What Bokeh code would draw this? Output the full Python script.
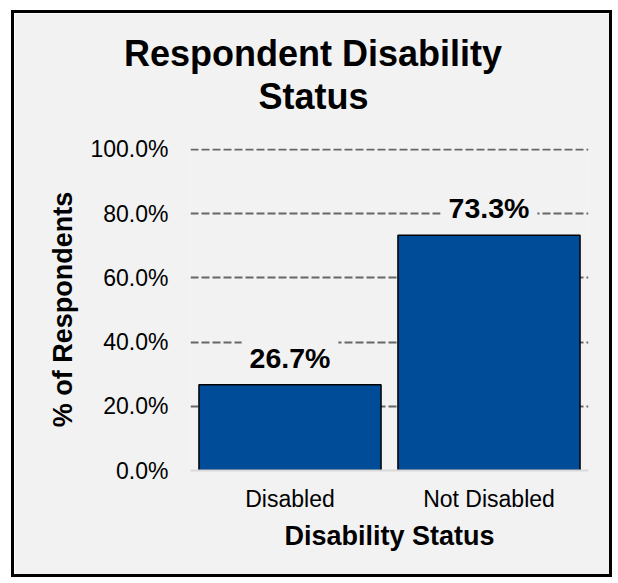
from bokeh.plotting import figure
from bokeh.models import Label, Title, FixedTicker, NumeralTickFormatter, FactorRange, Range1d, ColumnDataSource
from bokeh.embed import file_html
from bokeh.resources import INLINE

categories = ["Disabled", "Not Disabled"]
shares = [0.267, 0.733]
share_labels = ["26.7%", "73.3%"]
yticks = [0.0, 0.2, 0.4, 0.6, 0.8, 1.0]

title_lines = ["Respondent Disability", "Status"]
x_title = "Disability Status"
y_title = "% of Respondents"

BG = "#f2f2f2"
FONT = "Liberation Sans"
BAR = "#004c99"

src = ColumnDataSource(dict(cat=categories, share=shares))

p = figure(x_range=FactorRange(*categories), y_range=Range1d(0, 1.003),
           width=601, height=567, output_backend="svg", toolbar_location=None,
           min_border_left=176, min_border_right=27, min_border_top=135, min_border_bottom=110,
           background_fill_color=BG, border_fill_color=BG, outline_line_color=None)
p.styles = {"border": "3px solid black", "margin-left": "11px", "margin-top": "10px"}

p.vbar(x="cat", top="share", width=0.915, source=src,
       fill_color=BAR, line_color="black", line_width=1.5)

# grid
p.xgrid.grid_line_color = None
p.ygrid.ticker = FixedTicker(ticks=yticks[1:])
p.ygrid.grid_line_color = "#666666"
p.ygrid.grid_line_width = 2
p.ygrid.grid_line_dash = "8 3"

# y axis
p.yaxis.ticker = FixedTicker(ticks=yticks)
p.yaxis.formatter = NumeralTickFormatter(format="0.0%")
p.yaxis.axis_line_color = None
p.yaxis.major_tick_line_color = None
p.yaxis.minor_tick_line_color = None
p.yaxis.major_tick_out = 0
p.yaxis.major_label_standoff = 22
p.yaxis.major_label_text_font = FONT
p.yaxis.major_label_text_font_size = "23px"
p.yaxis.major_label_text_color = "black"
p.yaxis.axis_label = y_title
p.yaxis.axis_label_text_font = FONT
p.yaxis.axis_label_text_font_size = "27px"
p.yaxis.axis_label_text_font_style = "bold"
p.yaxis.axis_label_text_color = "black"
p.yaxis.axis_label_standoff = 9

# x axis
p.xaxis.axis_line_color = "#d9d9d9"
p.xaxis.axis_line_width = 2
p.xaxis.major_tick_line_color = None
p.xaxis.minor_tick_line_color = None
p.xaxis.major_tick_out = 0
p.xaxis.major_label_standoff = 15
p.xaxis.major_label_text_font = FONT
p.xaxis.major_label_text_font_size = "23px"
p.xaxis.major_label_text_color = "black"
p.xaxis.axis_label = x_title
p.xaxis.axis_label_text_font = FONT
p.xaxis.axis_label_text_font_size = "27px"
p.xaxis.axis_label_text_font_style = "bold"
p.xaxis.axis_label_text_color = "black"
p.xaxis.axis_label_standoff = 6

# value labels (x = centre of each category slot in the factor range)
for i, (v, t) in enumerate(zip(shares, share_labels)):
    p.add_layout(Label(x=i + 0.5, y=v, text=t, text_align="center", text_baseline="bottom",
                       y_offset=3, padding=8, background_fill_color=BG,
                       text_font=FONT, text_font_size="28.5px", text_font_style="bold",
                       text_color="black"))

# title: two lines, centred over the whole chart rather than the frame
p.title.text = title_lines[0]
p.title.align = "left"
p.title.offset = -66.5
p.title.text_font = FONT
p.title.text_font_size = "36px"
p.title.text_font_style = "bold"
p.title.text_color = "black"
p.title.standoff = 0

# blank spacer between the title block and the plot area
spacer = Title(text=" ", standoff=0, text_font=FONT, text_font_size="27px")
p.add_layout(spacer, "above")

t2 = Title(text=title_lines[1], align="left", offset=68, standoff=0,
           text_font=FONT, text_font_size="36px", text_font_style="bold", text_color="black")
p.add_layout(t2, "above")

open("out.html", "w").write(file_html(p, INLINE))
